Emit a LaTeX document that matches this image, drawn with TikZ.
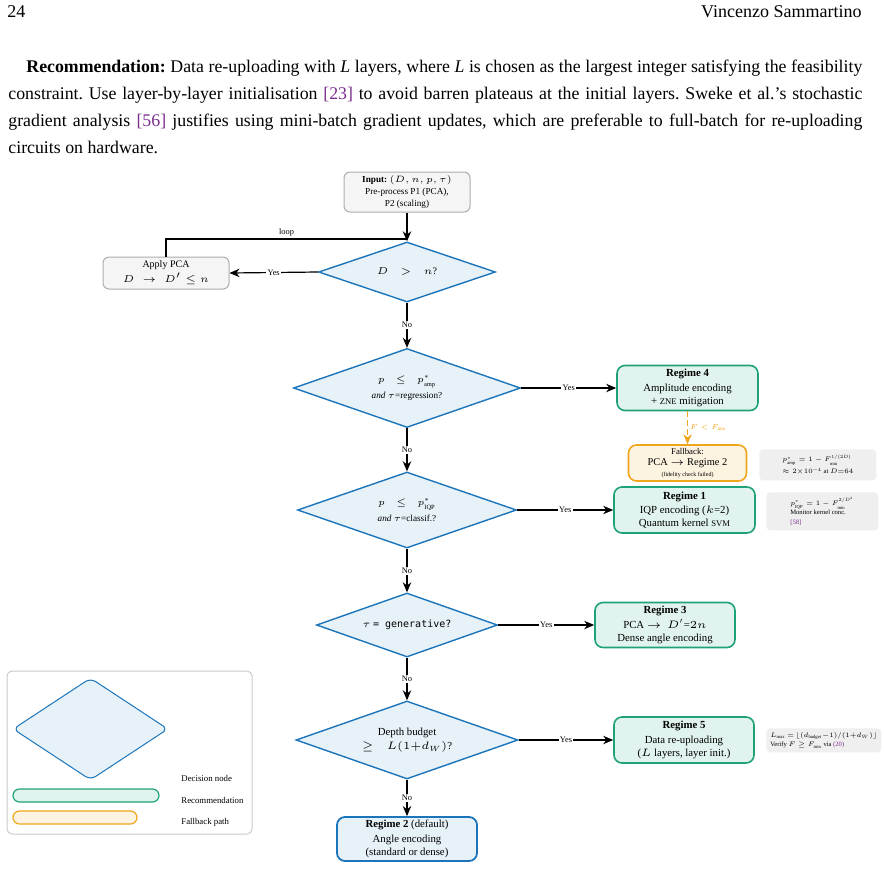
\documentclass[tikz,border=0pt]{standalone}
\usepackage{fix-cm}
\usepackage{fontspec}
\setmainfont{Liberation Serif}
\setmonofont{DejaVu Sans Mono}
\usepackage{graphicx}
\usetikzlibrary{shapes.geometric,arrows.meta}
\newlength\pxu \setlength\pxu{0.5pt}
\definecolor{decfill}{HTML}{E6F1F8}
\definecolor{decdraw}{HTML}{1B75BB}
\definecolor{recfill}{HTML}{E0F3EE}
\definecolor{recdraw}{HTML}{1FA27A}
\definecolor{fbfill}{HTML}{FDF3E1}
\definecolor{fbdraw}{HTML}{F0A61C}
\definecolor{grayfill}{HTML}{F5F5F5}
\definecolor{graydraw}{HTML}{ADADAD}
\definecolor{notefill}{HTML}{EFEFEF}
\definecolor{legdraw}{HTML}{CCCCCC}
\definecolor{cite}{HTML}{7B2D8E}
\newcommand\fs[2]{\fontsize{#1}{#2}\selectfont}
\newcommand\smc[1]{\scalebox{0.8}{#1}}
\frenchspacing
\begin{document}
\begin{tikzpicture}[x=0.5pt,y=-0.5pt,
  dec/.style={diamond, draw=decdraw, fill=decfill, line width=0.7pt, inner sep=0pt, align=center},
  rec/.style={rectangle, rounded corners=4pt, draw=recdraw, fill=recfill, line width=0.8pt, align=center, inner sep=1pt, font=\fs{5.4}{6.6}},
  graybox/.style={rectangle, rounded corners=3pt, draw=graydraw, fill=grayfill, line width=0.5pt, align=center, inner sep=1pt},
  fbbox/.style={rectangle, rounded corners=4pt, draw=fbdraw, fill=fbfill, line width=0.8pt, align=center, inner sep=1pt, font=\fs{4.4}{5.7}},
  notebox/.style={rectangle, rounded corners=2pt, fill=notefill, align=left, anchor=north west, inner xsep=2pt, inner ysep=1pt, font=\fs{3.3}{4.8}},
  arr/.style={-{Stealth[length=5pt,width=4.2pt,inset=1.6pt]}, line width=0.6pt},
  lab/.style={fill=white, inner sep=0.6pt, font=\fs{4.2}{5}},
  pill/.style={rectangle, rounded corners=3.25pt, minimum height=13\pxu, line width=0.6pt, inner sep=0pt},
  legtext/.style={anchor=west, inner sep=0pt, font=\fs{4.4}{5}}
]
\useasboundingbox[fill=white] (0,0) rectangle (884,869);

% header and paragraph
\node[anchor=base west, inner sep=0pt, font=\fs{9}{11}] (pg) at (7,17) {24};
\node[anchor=base east, inner sep=0pt, font=\fs{9}{11}] (au) at (862,17) {Vincenzo Sammartino};
\node[anchor=base west, inner sep=0pt, font=\fs{8.9}{13.5}] (p1) at (26,72) {\makebox[418pt][s]{\textbf{Recommendation:} Data re-uploading with \textit{L} layers, where \textit{L} is chosen as the largest integer satisfying the feasibility}};
\node[anchor=base west, inner sep=0pt, font=\fs{8.9}{13.5}] (p2) at (8,99) {\makebox[427pt][s]{constraint. Use layer-by-layer initialisation \textcolor{cite}{[23]} to avoid barren plateaus at the initial layers. Sweke et al.’s stochastic}};
\node[anchor=base west, inner sep=0pt, font=\fs{8.9}{13.5}] (p3) at (8,126) {\makebox[427pt][s]{gradient analysis \textcolor{cite}{[56]} justifies using mini-batch gradient updates, which are preferable to full-batch for re-uploading}};
\node[anchor=base west, inner sep=0pt, font=\fs{8.9}{13.5}] (p4) at (8,153) {circuits on hardware.};

% legend
\node[rectangle, rounded corners=2.5pt, draw=legdraw, fill=white, line width=0.5pt, minimum width=245\pxu, minimum height=163\pxu] (leg) at (129.5,752.5) {};
\node[dec, aspect=1.52, rounded corners=3pt, line width=0.5pt, minimum width=155\pxu, minimum height=102\pxu] (ld) at (90.5,729) {};
\node[pill, draw=recdraw, fill=recfill, minimum width=146\pxu] (lr) at (86,795.5) {};
\node[pill, draw=fbdraw, fill=fbfill, minimum width=124\pxu] (lf) at (75,817.5) {};
\node[legtext] (lt1) at (181,778) {Decision node};
\node[legtext] (lt2) at (181,800) {Recommendation};
\node[legtext] (lt3) at (181,822) {Fallback path};

% main nodes
\node[graybox, minimum width=126\pxu, minimum height=40\pxu, font=\fs{4.6}{6}] (in) at (407,192) {\textbf{Input:} $(D,n,p,\tau)$\\Pre-process P1 (PCA),\\P2 (scaling)};
\node[dec, aspect=2.95, minimum width=177\pxu, minimum height=60\pxu, font=\fs{5}{6}] (d1) at (407,272) {$D\;\;>\;\;n$?};
\node[graybox, minimum width=126\pxu, minimum height=32\pxu, font=\fs{5}{7.4}] (apc) at (166,273) {Apply PCA\\$D\;\to\;D'\le n$};

\node[dec, aspect=2.87, minimum width=227\pxu, minimum height=79\pxu, font=\fs{4.6}{6.6}] (d2) at (407,388) {$p\;\;\le\;\;p^*_{\mathrm{amp}}$\\[1.2pt]\emph{and} $\tau$=regression?};
\node[rec, minimum width=141\pxu, minimum height=45\pxu] (r4) at (687.5,388) {\textbf{Regime 4}\\[0.6pt]Amplitude encoding\\+ \smc{ZNE} mitigation};
\node[fbbox, minimum width=118\pxu, minimum height=36\pxu] (fb) at (687.5,463) {Fallback:\\{\fs{5.2}{6.2}PCA $\to$ Regime 2}\\{\fs{3}{4.2}(fidelity check failed)}};
\node[notebox, minimum width=117\pxu, minimum height=31\pxu] (n1) at (759,449) {$p^*_{\mathrm{amp}}=1-F_{\min}^{1/(2D)}$\\$\approx 2{\times}10^{-4}$ at $D{=}64$};

\node[dec, aspect=2.88, minimum width=219\pxu, minimum height=76\pxu, font=\fs{4.6}{6.6}] (d3) at (407,510) {$p\;\;\le\;\;p^*_{\mathrm{IQP}}$\\[1.2pt]\emph{and} $\tau$=classif.?};
\node[rec, minimum width=141\pxu, minimum height=46\pxu] (r1) at (684.5,510) {\textbf{Regime 1}\\[0.6pt]IQP encoding ($k$=2)\\Quantum kernel \smc{SVM}};
\node[notebox, minimum width=112\pxu, minimum height=38\pxu] (n2) at (766,492) {$p^*_{\mathrm{IQP}}=1-F_{\min}^{2/D^2}$\\Monitor kernel conc.\\\textcolor{cite}{[58]}};

\node[dec, aspect=2.83, minimum width=181\pxu, minimum height=64\pxu, font=\fs{5}{6}] (d4) at (407,625) {$\tau$ \texttt{= generative?}};
\node[rec, minimum width=140\pxu, minimum height=45\pxu] (r3) at (665,625) {\textbf{Regime 3}\\[0.6pt]PCA $\to$\ \ $D'$=$2n$\\Dense angle encoding};

\node[dec, aspect=2.85, minimum width=222\pxu, minimum height=78\pxu, font=\fs{5.4}{7}] (d5) at (407,740) {Depth budget\\$\ge\;\;L(1{+}d_W)$?};
\node[rec, minimum width=140\pxu, minimum height=46\pxu] (r5) at (684,740) {\textbf{Regime 5}\\[0.6pt]Data re-uploading\\($L$ layers, layer init.)};
\node[notebox, minimum width=111\pxu, minimum height=24\pxu] (n3) at (766,728) {$L_{\max}\,{=}\,\lfloor(d_{\mathrm{budget}}{-}1)/(1{+}d_W)\rfloor$\\Verify $F\ge F_{\min}$ via \textcolor{cite}{(20)}};

\node[rectangle, rounded corners=4pt, draw=decdraw, fill=decfill, line width=0.9pt, align=center, inner sep=1pt, font=\fs{5.4}{6.6}, minimum width=140\pxu, minimum height=44\pxu] (r2) at (407,839) {\textbf{Regime 2} (default)\\[0.6pt]Angle encoding\\(standard or dense)};

% connectors
\coordinate (jn) at (407,239);
\draw[arr] (in.south) -- (d1.north);
\draw[line width=0.6pt] (apc.north) |- node[pos=0.75, above, inner sep=1pt, font=\fs{4.2}{5}] (lp) {loop} (jn);
\draw[arr] (d1.west) -- node[lab] (y1) {Yes} (apc.east);
\draw[arr] (d1.south) -- node[lab] (o1) {No} (d2.north);
\draw[arr] (d2.east) -- node[lab] (y2) {Yes} (r4.west);
\draw[arr, draw=fbdraw, dash pattern=on 3pt off 1.5pt, -{Stealth[length=5pt,width=4.2pt,inset=1.6pt,fill=fbdraw]}] (r4.south) -- node[right, inner sep=1pt, text=fbdraw, font=\fs{3.6}{4.5}] (fl) {$F<F_{\min}$} (fb.north);
\draw[arr] (d2.south) -- node[lab] (o2) {No} (d3.north);
\draw[arr] (d3.east) -- node[lab] (y3) {Yes} (r1.west);
\draw[arr] (d3.south) -- node[lab] (o3) {No} (d4.north);
\draw[arr] (d4.east) -- node[lab] (y4) {Yes} (r3.west);
\draw[arr] (d4.south) -- node[lab] (o4) {No} (d5.north);
\draw[arr] (d5.east) -- node[lab] (y5) {Yes} (r5.west);
\draw[arr] (d5.south) -- node[lab] (o5) {No} (r2.north);
\end{tikzpicture}
\end{document}
